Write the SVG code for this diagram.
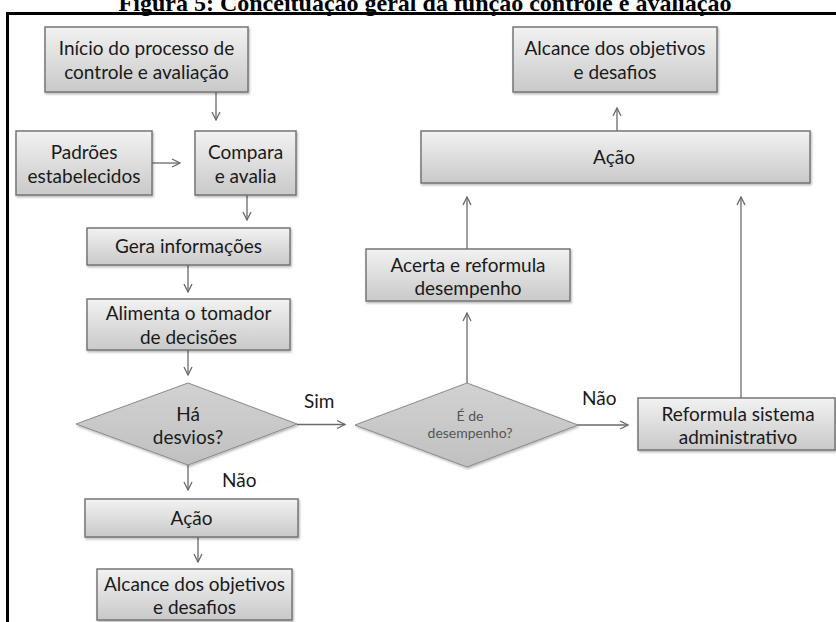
<svg xmlns="http://www.w3.org/2000/svg" width="836" height="622" viewBox="0 0 836 622">
<defs>
<linearGradient id="gBox" x1="0" y1="0" x2="0" y2="1">
<stop offset="0" stop-color="#f2f2f2"/>
<stop offset="1" stop-color="#c9c9c9"/>
</linearGradient>
<linearGradient id="gDia" x1="0" y1="0" x2="0" y2="1">
<stop offset="0" stop-color="#d2d2d2"/>
<stop offset="1" stop-color="#c0c0c0"/>
</linearGradient>
<filter id="sh" x="-5%" y="-10%" width="115%" height="130%">
<feDropShadow dx="1" dy="1.5" stdDeviation="1" flood-color="#000" flood-opacity="0.3"/>
</filter>
<marker id="arr" viewBox="0 0 10 10" refX="9" refY="5" markerWidth="10" markerHeight="10" markerUnits="userSpaceOnUse" orient="auto">
<path d="M1,1 L9,5 L1,9" fill="none" stroke="#6a6a6a" stroke-width="1.3"/>
</marker>
<style>
.box{fill:url(#gBox);stroke:#6e6e6e;stroke-width:1.4;filter:url(#sh)}
.dia{fill:url(#gDia);stroke:#8a8a8a;stroke-width:1;filter:url(#sh)}
.t{font-family:Lato,"Liberation Sans",sans-serif;font-size:19px;fill:#1a1a1a;text-anchor:middle}
.ts{font-family:Lato,"Liberation Sans",sans-serif;font-size:14px;fill:#555;text-anchor:middle}
.lbl{font-family:Lato,"Liberation Sans",sans-serif;font-size:19px;fill:#1a1a1a}
.c{stroke:#6a6a6a;stroke-width:1.3;fill:none;marker-end:url(#arr)}
.title{font-family:"Liberation Serif",serif;font-weight:bold;font-size:24px;fill:#000;text-anchor:middle}
</style>
</defs>
<rect width="836" height="622" fill="#fff"/>
<text class="title" x="425" y="11">Figura 5: Conceituação geral da função controle e avaliação</text>
<g id="frame" stroke="#000" stroke-width="3" fill="none">
<line x1="6" y1="13.5" x2="836" y2="13.5"/>
<line x1="7.5" y1="12" x2="7.5" y2="622"/>
</g>
<g id="connectors">
<line class="c" x1="216" y1="92" x2="216" y2="120"/>
<line class="c" x1="152" y1="163" x2="180" y2="163"/>
<line class="c" x1="247" y1="195" x2="247" y2="220"/>
<line class="c" x1="188" y1="265" x2="188" y2="292"/>
<line class="c" x1="188" y1="350" x2="188" y2="375"/>
<line class="c" x1="188" y1="465" x2="188" y2="490"/>
<line class="c" x1="198" y1="537" x2="198" y2="562"/>
<line class="c" x1="297" y1="424.5" x2="345" y2="424.5"/>
<line class="c" x1="467" y1="383" x2="467" y2="313"/>
<line class="c" x1="467" y1="249" x2="467" y2="197"/>
<line class="c" x1="578" y1="425" x2="628" y2="425"/>
<line class="c" x1="741" y1="398" x2="741" y2="197"/>
<line class="c" x1="617" y1="131" x2="617" y2="108"/>
<text class="lbl" x="304" y="408">Sim</text>
<text class="lbl" x="582" y="405">Não</text>
<text class="lbl" x="222" y="487">Não</text>
</g>
<g id="inicio">
<rect class="box" x="45" y="27" width="203" height="65"/>
<text class="t" x="146.5" y="55">Início do processo de</text>
<text class="t" x="146.5" y="79">controle e avaliação</text>
</g>
<g id="padroes">
<rect class="box" x="16" y="131" width="136" height="64"/>
<text class="t" x="84" y="159">Padrões</text>
<text class="t" x="84" y="183">estabelecidos</text>
</g>
<g id="compara">
<rect class="box" x="195" y="131" width="101" height="64"/>
<text class="t" x="245.5" y="159">Compara</text>
<text class="t" x="245.5" y="183">e avalia</text>
</g>
<g id="gera">
<rect class="box" x="87" y="228" width="203" height="37"/>
<text class="t" x="188.5" y="253">Gera informações</text>
</g>
<g id="alimenta">
<rect class="box" x="87" y="299" width="203" height="51"/>
<text class="t" x="188.5" y="320">Alimenta o tomador</text>
<text class="t" x="188.5" y="344">de decisões</text>
</g>
<g id="ha-desvios">
<polygon class="dia" points="188,383 297,424 188,465 76,424"/>
<text class="t" x="188" y="421">Há</text>
<text class="t" x="188" y="444">desvios?</text>
</g>
<g id="acao-left">
<rect class="box" x="85" y="499" width="213" height="38"/>
<text class="t" x="191.5" y="525">Ação</text>
</g>
<g id="alcance-left">
<rect class="box" x="97" y="569" width="195" height="51"/>
<text class="t" x="194.5" y="591">Alcance dos objetivos</text>
<text class="t" x="194.5" y="614">e desafios</text>
</g>
<g id="alcance-top">
<rect class="box" x="513" y="27" width="204" height="65"/>
<text class="t" x="615" y="55">Alcance dos objetivos</text>
<text class="t" x="615" y="79">e desafios</text>
</g>
<g id="acao-right">
<rect class="box" x="421" y="131" width="389" height="52"/>
<text class="t" x="614" y="164">Ação</text>
</g>
<g id="acerta">
<rect class="box" x="366" y="249" width="204" height="52"/>
<text class="t" x="468" y="272">Acerta e reformula</text>
<text class="t" x="468" y="295">desempenho</text>
</g>
<g id="e-desempenho">
<polygon class="dia" points="467,383 578,425 467,467 355,425"/>
<text class="ts" x="470" y="421">É de</text>
<text class="ts" x="470" y="438">desempenho?</text>
</g>
<g id="reformula">
<rect class="box" x="638" y="398" width="197" height="52"/>
<text class="t" x="738" y="421">Reformula sistema</text>
<text class="t" x="738" y="444">administrativo</text>
</g>
</svg>
